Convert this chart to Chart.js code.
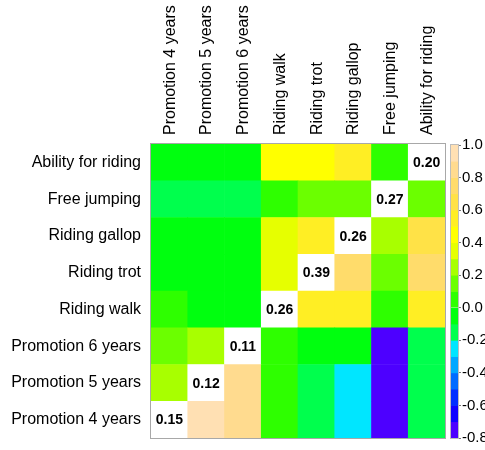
<!DOCTYPE html>
<html>
<head>
<meta charset="utf-8">
<script src="https://cdn.jsdelivr.net/npm/chart.js@4/dist/chart.umd.min.js"></script>
<style>
  body { margin: 0; background: #fff; }
  #wrap { position: relative; width: 485px; height: 450px; }
  #wrap canvas { position: absolute; top: 0; }
</style>
</head>
<body>
<div id="wrap">
  <canvas id="heat" width="485" height="450" style="left:0"></canvas>
  <canvas id="scale" width="45" height="450" style="left:440px"></canvas>
</div>
<script>
const FONT = "'Liberation Sans', Arial, sans-serif";

// traits, bottom row first (same order along the x axis)
const traits = [
  "Promotion 4 years",
  "Promotion 5 years",
  "Promotion 6 years",
  "Riding walk",
  "Riding trot",
  "Riding gallop",
  "Free jumping",
  "Ability for riding",
];

// heritabilities printed on the diagonal
const heritability = [0.15, 0.12, 0.11, 0.26, 0.39, 0.26, 0.27, 0.20];

// correlations, one row per trait (null = diagonal)
const rowP4      = [null, 0.93, 0.84, 0.05, -0.15, -0.25, -0.75, -0.14];
const rowP5      = [0.25, null, 0.85, 0.04, -0.16, -0.26, -0.74, -0.13];
const rowP6      = [0.14, 0.22, null, 0.06, -0.04, -0.05, -0.73, -0.15];
const rowWalk    = [0.03, -0.03, -0.04, null, 0.55, 0.56, 0.07, 0.54];
const rowTrot    = [-0.05, -0.04, -0.06, 0.35, null, 0.75, 0.15, 0.76];
const rowGallop  = [-0.06, -0.05, -0.04, 0.36, 0.57, null, 0.24, 0.66];
const rowFree    = [-0.12, -0.13, -0.11, 0.05, 0.16, 0.14, null, 0.13];
const rowAbility = [-0.03, -0.02, -0.05, 0.45, 0.46, 0.53, 0.08, null];
const rows = [rowP4, rowP5, rowP6, rowWalk, rowTrot, rowGallop, rowFree, rowAbility];

// topo palette, 18 bins of 0.1 from -0.8 to 1.0
const binEdges = [-0.8, -0.7, -0.6, -0.5, -0.4, -0.3, -0.2, -0.1, 0.0,
                  0.1, 0.2, 0.3, 0.4, 0.5, 0.6, 0.7, 0.8, 0.9, 1.0];
const palette = [
  "#4D00FF", "#0F00FF", "#002EFF", "#006BFF", "#00A8FF", "#00E6FF",
  "#00FF4D", "#00FF0F", "#2EFF00", "#6BFF00", "#A8FF00", "#E6FF00",
  "#FFFF00", "#FFEE24", "#FFE247", "#FFDC6B", "#FFDB8F", "#FFE0B3",
];
const scaleTicks = [-0.8, -0.6, -0.4, -0.2, 0.0, 0.2, 0.4, 0.6, 0.8, 1.0];

function colorFor(v) {
  if (v === null) return "#ffffff";
  for (let i = 0; i < palette.length; i++) {
    if (v >= binEdges[i] - 1e-9 && v < binEdges[i + 1] - 1e-9) return palette[i];
  }
  return v < binEdges[0] ? palette[0] : palette[palette.length - 1];
}

const frame = {
  id: "frame",
  afterDatasetsDraw(chart, args, opts) {
    const { ctx, chartArea: a } = chart;
    ctx.save();
    ctx.strokeStyle = opts.color;
    ctx.lineWidth = 1;
    ctx.strokeRect(Math.round(a.left) - 0.5, Math.round(a.top) - 0.5,
                   Math.round(a.right - a.left) + 1, Math.round(a.bottom - a.top) + 1);
    ctx.restore();
  },
};

const diagLabels = {
  id: "diagLabels",
  afterDatasetsDraw(chart) {
    const { ctx, scales: { x, y } } = chart;
    ctx.save();
    ctx.font = "bold 14px " + FONT;
    ctx.fillStyle = "#000";
    ctx.textAlign = "center";
    ctx.textBaseline = "middle";
    heritability.forEach((h, i) => {
      ctx.fillText(h.toFixed(2), x.getPixelForValue(i), y.getPixelForValue(i + 0.5) + 1);
    });
    ctx.restore();
  },
};

new Chart(document.getElementById("heat"), {
  type: "bar",
  data: {
    labels: traits,
    datasets: rows.map((row, r) => ({
      label: traits[r],
      data: row.map((v, c) => ({ x: traits[c], y: [r, r + 1] })),
      backgroundColor: (ctx) => colorFor(row[ctx.dataIndex]),
      borderWidth: 0,
      grouped: false,
      barPercentage: 1,
      categoryPercentage: 1,
    })),
  },
  options: {
    responsive: false,
    animation: false,
    layout: { padding: { top: 0, left: 0, right: 40, bottom: 12 } },
    plugins: { legend: { display: false }, tooltip: { enabled: false }, frame: { color: "#a8a8a8" } },
    scales: {
      x: {
        position: "top",
        grid: { display: false, drawTicks: false },
        border: { display: false },
        ticks: {
          color: "#000", font: { family: FONT, size: 16 },
          minRotation: 90, maxRotation: 90, padding: 9, labelOffset: 20, autoSkip: false,
        },
        afterFit: (s) => { s.height = 144; s.paddingLeft = 0; s.paddingRight = 0; },
      },
      y: {
        type: "linear",
        min: 0,
        max: 8,
        grid: { display: false, drawTicks: false },
        border: { display: false },
        afterBuildTicks: (s) => { s.ticks = traits.map((t, i) => ({ value: i + 0.5 })); },
        ticks: { color: "#000", font: { family: FONT, size: 16 }, padding: 10, callback: (v, i) => traits[i] },
        afterFit: (s) => { s.width = 151; s.paddingTop = 0; s.paddingBottom = 0; },
      },
    },
  },
  plugins: [frame, diagLabels],
});

// colour key
new Chart(document.getElementById("scale"), {
  type: "bar",
  data: {
    labels: [""],
    datasets: [{
      data: palette.map((c, i) => ({ x: "", y: [binEdges[i], binEdges[i + 1]] })),
      backgroundColor: palette,
      borderWidth: 0,
      barPercentage: 1,
      categoryPercentage: 1,
    }],
  },
  options: {
    responsive: false,
    animation: false,
    layout: { padding: { top: 145, left: 11, right: 0, bottom: 12 } },
    plugins: { legend: { display: false }, tooltip: { enabled: false }, frame: { color: "#bdbdbd" } },
    scales: {
      x: { display: false },
      y: {
        position: "right",
        min: -0.8,
        max: 1.0,
        grid: { drawOnChartArea: false, drawTicks: true, tickLength: 3, color: "#777" },
        border: { display: false },
        afterBuildTicks: (s) => { s.ticks = scaleTicks.map((v) => ({ value: v })); },
        ticks: { color: "#000", font: { family: FONT, size: 15 }, padding: 1, callback: (v) => v.toFixed(1) },
        afterFit: (s) => { s.width = 27; s.paddingTop = 0; s.paddingBottom = 0; },
      },
    },
  },
  plugins: [frame],
});
</script>
</body>
</html>
